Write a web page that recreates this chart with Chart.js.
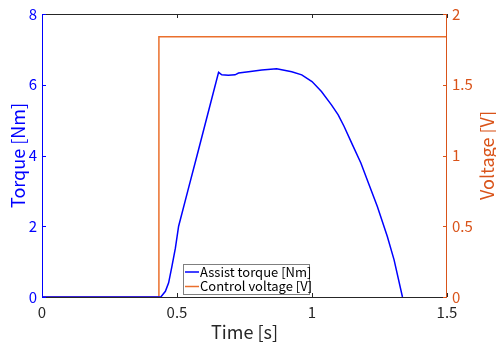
<!DOCTYPE html>
<html>
<head>
<meta charset="utf-8">
<script src="https://cdn.jsdelivr.net/npm/chart.js@4"></script>
<style>
  html, body { margin: 0; padding: 0; background: #fff; }
  #wrap { width: 496px; height: 345px; position: relative; }
</style>
</head>
<body>
<div id="wrap"><canvas id="chart"></canvas></div>
<script>
// Torque curve (time in s, torque in Nm)
const torqueTime = [0, 0.44, 0.457, 0.469, 0.481, 0.494, 0.506, 0.54, 0.58, 0.62, 0.654, 0.666, 0.69, 0.715, 0.728, 0.765, 0.814, 0.869, 0.925, 0.962, 1.0, 1.035, 1.072, 1.097, 1.119, 1.15, 1.181, 1.21, 1.242, 1.279, 1.304, 1.335];
const torqueValues = [0, 0, 0.16, 0.4, 0.86, 1.38, 2.0, 3.0, 4.17, 5.35, 6.35, 6.28, 6.27, 6.28, 6.33, 6.37, 6.42, 6.45, 6.37, 6.28, 6.09, 5.81, 5.43, 5.15, 4.82, 4.3, 3.79, 3.2, 2.56, 1.71, 1.05, 0];

// Control voltage step (time in s, voltage in V)
const voltageTime = [0, 0.433, 0.433, 1.5];
const voltageValues = [0, 0, 1.84, 1.84];

const xTicks = [0, 0.5, 1, 1.5];
const torqueTicks = [0, 2, 4, 6, 8];
const voltageTicks = [0, 0.5, 1, 1.5, 2];

const seriesLabels = ['Assist torque [Nm]', 'Control voltage [V]'];

const BLUE = '#0000ff';
const ORANGE = '#d95319';
const ORANGE_LINE = '#ea6f2c';
const DARK = '#262626';
const FONT = "'Noto Sans CJK JP', 'Noto Sans', sans-serif";

function toPoints(xs, ys) {
    return xs.map((x, i) => ({ x: x, y: ys[i] }));
}

// Axes frame, inward ticks, right title and inner legend
const framePlugin = {
    id: 'frame',
    afterDatasetsDraw(chart) {
        const ctx = chart.ctx;
        const a = chart.chartArea;
        const sx = chart.scales.x, sy = chart.scales.y, sy1 = chart.scales.y1;
        const tl = 4;
        ctx.save();
        ctx.lineWidth = 1;

        // top & bottom
        ctx.strokeStyle = DARK;
        ctx.beginPath();
        ctx.moveTo(a.left, a.top + 0.5); ctx.lineTo(a.right, a.top + 0.5);
        ctx.moveTo(a.left, a.bottom + 0.5); ctx.lineTo(a.right, a.bottom + 0.5);
        xTicks.forEach(v => {
            const px = Math.round(sx.getPixelForValue(v)) + 0.5;
            ctx.moveTo(px, a.bottom); ctx.lineTo(px, a.bottom - tl);
            ctx.moveTo(px, a.top); ctx.lineTo(px, a.top + tl);
        });
        ctx.stroke();

        // left axis
        ctx.strokeStyle = BLUE;
        ctx.beginPath();
        ctx.moveTo(a.left + 0.5, a.top); ctx.lineTo(a.left + 0.5, a.bottom + 1);
        torqueTicks.forEach(v => {
            const py = Math.round(sy.getPixelForValue(v)) + 0.5;
            ctx.moveTo(a.left, py); ctx.lineTo(a.left + tl, py);
        });
        ctx.stroke();

        // right axis
        ctx.strokeStyle = ORANGE;
        ctx.beginPath();
        ctx.moveTo(a.right - 0.5, a.top); ctx.lineTo(a.right - 0.5, a.bottom + 1);
        voltageTicks.forEach(v => {
            const py = Math.round(sy1.getPixelForValue(v)) + 0.5;
            ctx.moveTo(a.right, py); ctx.lineTo(a.right - tl, py);
        });
        ctx.stroke();

        // right axis title, reading bottom to top
        ctx.fillStyle = ORANGE;
        ctx.font = '18px ' + FONT;
        ctx.textAlign = 'center';
        ctx.textBaseline = 'middle';
        ctx.translate(487, (a.top + a.bottom) / 2);
        ctx.rotate(-Math.PI / 2);
        ctx.fillText('Voltage [V]', 0, 0);
        ctx.setTransform(1, 0, 0, 1, 0, 0);

        // legend box inside the plot
        const bx = 183, by = 264, bw = 126, bh = 30;
        ctx.fillStyle = '#ffffff';
        ctx.fillRect(bx, by, bw, bh);
        ctx.strokeStyle = '#7f7f7f';
        ctx.strokeRect(bx + 0.5, by + 0.5, bw, bh);
        const colors = [BLUE, ORANGE_LINE];
        ctx.font = '13px ' + FONT;
        ctx.textAlign = 'left';
        seriesLabels.forEach((lab, i) => {
            const ly = by + 8 + i * 14.5;
            ctx.strokeStyle = colors[i];
            ctx.lineWidth = 1.5;
            ctx.beginPath();
            ctx.moveTo(bx + 2, ly); ctx.lineTo(bx + 16, ly);
            ctx.stroke();
            ctx.fillStyle = '#000000';
            ctx.fillText(lab, bx + 17, ly);
        });
        ctx.restore();
    }
};

const tickText = v => String(v);

new Chart(document.getElementById('chart'), {
    type: 'line',
    data: {
        datasets: [{
            label: seriesLabels[0],
            data: toPoints(torqueTime, torqueValues),
            yAxisID: 'y',
            borderColor: BLUE,
            borderWidth: 1.5,
            pointRadius: 0,
            tension: 0
        }, {
            label: seriesLabels[1],
            data: toPoints(voltageTime, voltageValues),
            yAxisID: 'y1',
            borderColor: ORANGE_LINE,
            borderWidth: 1.5,
            pointRadius: 0,
            tension: 0
        }]
    },
    plugins: [framePlugin],
    options: {
        responsive: true,
        maintainAspectRatio: false,
        animation: false,
        layout: { padding: { top: 14, left: 0, right: 0, bottom: 0 } },
        plugins: {
            legend: { display: false },
            tooltip: { enabled: false }
        },
        scales: {
            x: {
                type: 'linear',
                min: 0,
                max: 1.5,
                afterBuildTicks: s => { s.ticks = xTicks.map(v => ({ value: v })); },
                afterFit: s => { s.height = 48; },
                grid: { display: false, drawTicks: false },
                border: { display: false },
                ticks: { color: DARK, padding: 6, font: { size: 15, family: FONT }, maxRotation: 0, callback: tickText },
                title: { display: true, text: 'Time [s]', color: DARK, font: { size: 18, family: FONT }, padding: { top: 0, bottom: 2 } }
            },
            y: {
                type: 'linear',
                position: 'left',
                min: 0,
                max: 8,
                afterBuildTicks: s => { s.ticks = torqueTicks.map(v => ({ value: v })); },
                afterFit: s => { s.width = 42; },
                grid: { display: false, drawTicks: false },
                border: { display: false },
                ticks: { color: BLUE, padding: 5, font: { size: 15, family: FONT }, callback: tickText },
                title: { display: true, text: 'Torque [Nm]', color: BLUE, font: { size: 18, family: FONT }, padding: { top: 7, bottom: 0 } }
            },
            y1: {
                type: 'linear',
                position: 'right',
                min: 0,
                max: 2,
                afterBuildTicks: s => { s.ticks = voltageTicks.map(v => ({ value: v })); },
                afterFit: s => { s.width = 49; },
                grid: { display: false, drawTicks: false },
                border: { display: false },
                ticks: { color: ORANGE, padding: 5, font: { size: 15, family: FONT }, callback: tickText }
            }
        }
    }
});
</script>
</body>
</html>
